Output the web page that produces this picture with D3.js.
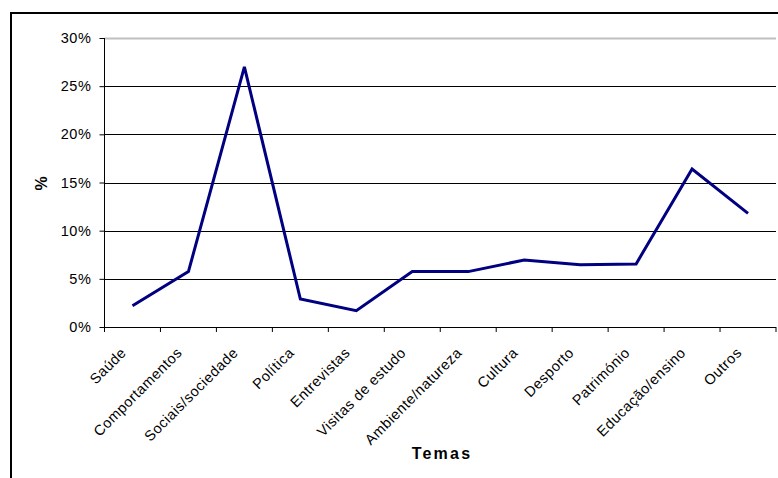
<!DOCTYPE html>
<html><head><meta charset="utf-8">
<script src="https://cdn.jsdelivr.net/npm/d3@7"></script>
<style>
html,body{margin:0;padding:0;background:#fff;}
svg{display:block;font-family:"Liberation Sans",Arial,sans-serif;}
</style></head>
<body><svg id="c" width="778" height="478"></svg>
<script>
const categories = ["Saúde","Comportamentos","Sociais/sociedade","Política","Entrevistas","Visitas de estudo","Ambiente/natureza","Cultura","Desporto","Património","Educação/ensino","Outros"];
const values = [2.2, 5.75, 27.0, 2.9, 1.7, 5.75, 5.75, 6.95, 6.45, 6.55, 16.4, 11.8];
const yTicks = [0, 5, 10, 15, 20, 25, 30];
const xTitle = "Temas";
const yTitle = "%";

const svg = d3.select("#c");
const L = 104.5, R = 776, T = 38, B = 327;

// outer frame
svg.append("rect").attr("x", 11).attr("y", 13).attr("width", 900).attr("height", 600)
  .attr("fill", "none").attr("stroke", "#000").attr("stroke-width", 2);

const x = d3.scaleBand().domain(categories).range([L, R]).paddingInner(0).paddingOuter(0);
const y = d3.scaleLinear().domain([0, 30]).range([B, T]);

// gridlines
svg.append("g").selectAll("line").data(yTicks.filter(d => d > 0)).join("line")
  .attr("x1", L).attr("x2", R)
  .attr("y1", d => Math.round(y(d)) + 0.5).attr("y2", d => Math.round(y(d)) + 0.5)
  .attr("stroke", d => d === 30 ? "#c0c0c0" : "#000").attr("stroke-width", d => d === 30 ? 2 : 1);

// y axis
const ya = svg.append("g").attr("transform", `translate(${L},0)`)
  .call(d3.axisLeft(y).tickValues(yTicks).tickFormat(d => d + "%").tickSize(5).tickPadding(8));
ya.select(".domain").attr("stroke", "#000").attr("d", `M0,${T}V${B}`);
ya.selectAll("text").attr("font-size", 14.5).attr("fill", "#000")
  .style("letter-spacing", "0.6px").style("font-family", "Liberation Sans, Arial, sans-serif");

// x axis ticks at category boundaries
const xg = svg.append("g");
xg.append("line").attr("x1", L).attr("x2", R).attr("y1", B + 0.5).attr("y2", B + 0.5).attr("stroke", "#000");
const bounds = categories.map(c => x(c)).concat([R]);
xg.selectAll("line.t").data(bounds).join("line").attr("class", "t")
  .attr("x1", d => d).attr("x2", d => d).attr("y1", B).attr("y2", B + 5).attr("stroke", "#000");
xg.selectAll("text").data(categories).join("text")
  .attr("transform", d => `translate(${x(d) + x.bandwidth() / 2 - 9},${B + 23}) rotate(-45)`)
  .attr("text-anchor", "end").attr("dy", "0.35em")
  .attr("font-size", 14.5).style("letter-spacing", "0.5px").attr("fill", "#000").text(d => d);

// line
const line = d3.line().x((d, i) => x(categories[i]) + x.bandwidth() / 2).y(d => y(d));
svg.append("path").datum(values).attr("d", line)
  .attr("fill", "none").attr("stroke", "#000080").attr("stroke-width", 3).attr("stroke-linejoin", "miter");

// titles
svg.append("text").attr("x", 442).attr("y", 459).attr("text-anchor", "middle")
  .attr("font-size", 16).attr("font-weight", "bold").style("letter-spacing", "2.2px").text(xTitle);
svg.append("text").attr("transform", "translate(46.5,183.5) rotate(-90)").attr("text-anchor", "middle")
  .attr("font-size", 16).attr("font-weight", "bold").text(yTitle);
</script></body></html>
